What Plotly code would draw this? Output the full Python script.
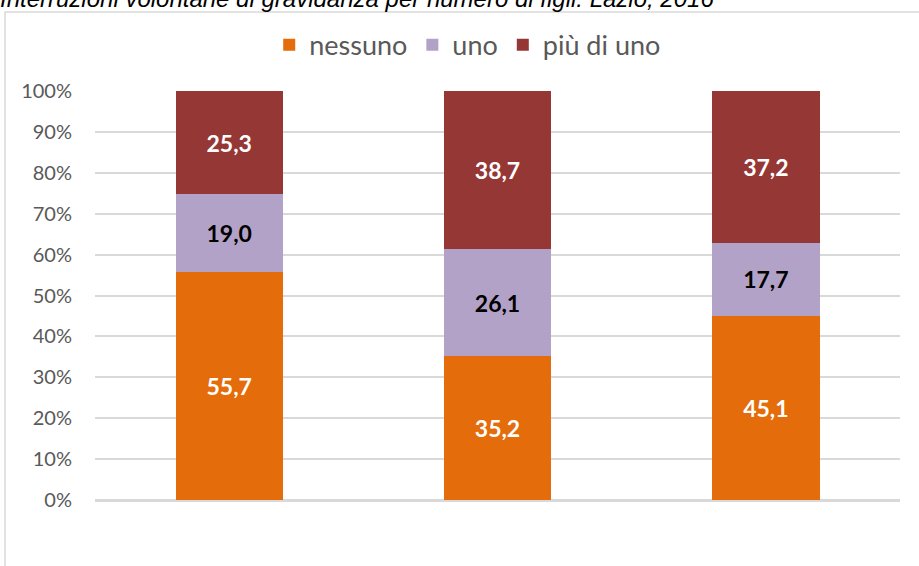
import plotly.graph_objects as go

categories = ["Gruppo 1", "Gruppo 2", "Gruppo 3"]
nessuno = [55.7, 35.2, 45.1]
uno = [19.0, 26.1, 17.7]
piu_di_uno = [25.3, 38.7, 37.2]
tick_vals = [0, 10, 20, 30, 40, 50, 60, 70, 80, 90, 100]
tick_text = [f"{v}%" for v in tick_vals]

def fmt(vals):
    return [f"{v:.1f}".replace(".", ",") for v in vals]

series = [
    ("nessuno", nessuno, "#E46C0A", "white"),
    ("uno", uno, "#B3A2C7", "black"),
    ("più di uno", piu_di_uno, "#953735", "white"),
]

fig = go.Figure()
for name, vals, color, tcol in series:
    fig.add_trace(go.Bar(
        x=categories, y=vals, name=name,
        marker=dict(color=color, line=dict(width=0)),
        text=fmt(vals), textposition="inside", insidetextanchor="middle",
        textangle=0,
        textfont=dict(family="Lato", size=23, color=tcol, weight="bold"),
        width=0.40,
    ))

fig.update_layout(
    barmode="stack",
    width=919, height=566,
    margin=dict(l=95, r=19, t=91, b=66, autoexpand=False),
    paper_bgcolor="white", plot_bgcolor="white",
    showlegend=True,
    legend=dict(orientation="h", x=0.463, xanchor="center", y=1.112, yanchor="middle",
                font=dict(family="Lato", size=27, color="#595959"),
                traceorder="normal", itemwidth=30),
    xaxis=dict(showticklabels=False, showgrid=False, showline=False, zeroline=False,
               ticks=""),
    yaxis=dict(range=[0, 100], tickmode="array", tickvals=tick_vals, ticktext=tick_text,
               showgrid=True, gridcolor="#D9D9D9", gridwidth=1.5,
               zeroline=True, zerolinecolor="#D9D9D9", zerolinewidth=3,
               tickfont=dict(family="Lato", size=20, color="#595959"),
               ticks="", ticklabelstandoff=22),
    uniformtext=dict(mode=False),
)

fig.add_shape(type="rect", xref="paper", yref="paper",
              x0=-0.1118, x1=1.03, y0=-0.17, y1=1.193,
              line=dict(color="#D9D9D9", width=1.5), fillcolor="rgba(0,0,0,0)", layer="above")

fig.add_annotation(xref="paper", yref="paper", x=-0.12, y=1.225, xanchor="left", yanchor="middle",
                   text="<i>Interruzioni volontarie di gravidanza per numero di figli. Lazio, 2016</i>",
                   showarrow=False, font=dict(family="Liberation Sans", size=24, color="black"))

fig.write_html("out.html", config={"displayModeBar": False},
               post_script="document.body.style.margin='0';")
